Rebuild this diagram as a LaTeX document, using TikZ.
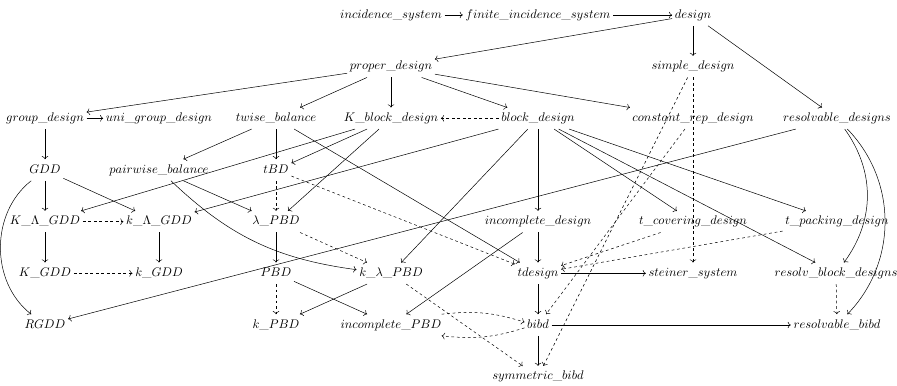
\documentclass[tikz,border=0pt]{standalone}
\usetikzlibrary{cd}
\begin{document}
\begin{tikzpicture}[x=0.80pt,y=0.80pt,
  cell/.style={inner xsep=2pt,inner ysep=4pt,text height=6.9pt,text depth=1.94pt},
  arr/.style={-{cm to},line width=0.4pt},
  darr/.style={arr,dash pattern=on 2.2pt off 2.2pt}]
\useasboundingbox (0,0) rectangle (897,385);
% row 0
\node[cell] (inc)  at (391,370)   {$incidence\_system$};
\node[cell] (fin)  at (538,370)   {$finite\_incidence\_system$};
\node[cell] (des)  at (693,370)   {$design$};
% row 1
\node[cell] (prop) at (391,318.3) {$proper\_design$};
\node[cell] (simp) at (693,318.3) {$simple\_design$};
% row 2
\node[cell] (grp)  at (45,266.7)  {$group\_design$};
\node[cell] (ugrp) at (159,266.7) {$uni\_group\_design$};
\node[cell] (twb)  at (276,266.7) {$twise\_balance$};
\node[cell] (Kbl)  at (391,266.7) {$K\_block\_design$};
\node[cell] (blk)  at (538,266.7) {$block\_design$};
\node[cell] (crep) at (693,266.7) {$constant\_rep\_design$};
\node[cell] (resd) at (837,266.7) {$resolvable\_designs$};
% row 3
\node[cell] (GDD)  at (45,215)    {$GDD$};
\node[cell] (pwb)  at (159,215)   {$pairwise\_balance$};
\node[cell] (tBD)  at (276,215)   {$tBD$};
% row 4
\node[cell] (KLG)  at (45,163.3)  {$K\_\Lambda\_GDD$};
\node[cell] (kLG)  at (159,163.3) {$k\_\Lambda\_GDD$};
\node[cell] (lPBD) at (276,163.3) {$\lambda\_PBD$};
\node[cell] (incd) at (538,163.3) {$incomplete\_design$};
\node[cell] (tcov) at (693,163.3) {$t\_covering\_design$};
\node[cell] (tpck) at (837,163.3) {$t\_packing\_design$};
% row 5
\node[cell] (KGDD) at (45,111.7)  {$K\_GDD$};
\node[cell] (kGDD) at (159,111.7) {$k\_GDD$};
\node[cell] (PBD)  at (276,111.7) {$PBD$};
\node[cell] (klP)  at (391,111.7) {$k\_\lambda\_PBD$};
\node[cell] (tdes) at (538,111.7) {$tdesign$};
\node[cell] (stn)  at (693,111.7) {$steiner\_system$};
\node[cell] (rbd)  at (836,111.7) {$resolv\_block\_designs$};
% row 6
\node[cell] (RGDD) at (45,60)     {$RGDD$};
\node[cell] (kPBD) at (276,60)    {$k\_PBD$};
\node[cell] (iPBD) at (391,60)    {$incomplete\_PBD$};
\node[cell] (bibd) at (538,60)    {$bibd$};
\node[cell] (rbib) at (837,60)    {$resolvable\_bibd$};
% row 7
\node[cell] (symb) at (538,8.3)   {$symmetric\_bibd$};

% locale extensions
\draw[arr] (inc) -- (fin);
\draw[arr] (fin) -- (des);
\draw[arr] (des) -- (prop);
\draw[arr] (des) -- (simp);
\draw[arr] (des) -- (resd);
\draw[arr] (prop) -- (grp);
\draw[arr] (prop) -- (twb);
\draw[arr] (prop) -- (Kbl);
\draw[arr] (prop) -- (blk);
\draw[arr] (prop) -- (crep);
\draw[arr] (grp) -- (ugrp);
\draw[arr] (grp) -- (GDD);
\draw[arr] (twb) -- (pwb);
\draw[arr] (twb) -- (tBD);
\draw[arr] (twb) -- (tdes);
\draw[arr] (Kbl) -- (KLG);
\draw[arr] (Kbl) -- (tBD);
\draw[arr] (Kbl) -- (lPBD);
\draw[arr] (blk) -- (kLG);
\draw[arr] (blk) -- (klP);
\draw[arr] (blk) -- (incd);
\draw[arr] (blk) -- (tcov);
\draw[arr] (blk) -- (tpck);
\draw[arr] (blk) -- (rbd);
\draw[arr] (resd) -- (RGDD);
\draw[arr] (resd) to[bend left=36] (rbd);
\draw[arr] (resd) to[bend left=44] (rbib);
\draw[arr] (GDD) -- (KLG);
\draw[arr] (GDD) -- (kLG);
\draw[arr] (GDD) to[bend right=52] (RGDD);
\draw[arr] (pwb) -- (lPBD);
\draw[arr] (pwb) to[bend right=18] (klP);
\draw[arr] (KLG) -- (KGDD);
\draw[arr] (kLG) -- (kGDD);
\draw[arr] (lPBD) -- (PBD);
\draw[arr] (incd) -- (tdes);
\draw[arr] (incd) -- (iPBD);
\draw[arr] (PBD) -- (iPBD);
\draw[arr] (klP) -- (kPBD);
\draw[arr] (tdes) -- (stn);
\draw[arr] (tdes) -- (bibd);
\draw[arr] (bibd) -- (rbib);
\draw[arr] (bibd) -- (symb);

% sublocale interpretations
\draw[darr] (blk) -- (Kbl);
\draw[darr] (simp) -- (stn);
\draw[darr] (simp) -- (symb);
\draw[darr] (crep) -- (bibd);
\draw[darr] (tBD) -- (lPBD);
\draw[darr] (tBD) -- (tdes);
\draw[darr] (KLG) -- (kLG);
\draw[darr] (KGDD) -- (kGDD);
\draw[darr] (lPBD) -- (klP);
\draw[darr] (tcov) -- (tdes);
\draw[darr] (tpck) -- (tdes);
\draw[darr] (PBD) -- (kPBD);
\draw[darr] (klP) -- (symb);
\draw[darr] (rbd) -- (rbib);
\draw[darr] (iPBD) to[bend left=12] (bibd);
\draw[darr] (bibd) to[bend left=12] (iPBD);
\end{tikzpicture}
\end{document}
